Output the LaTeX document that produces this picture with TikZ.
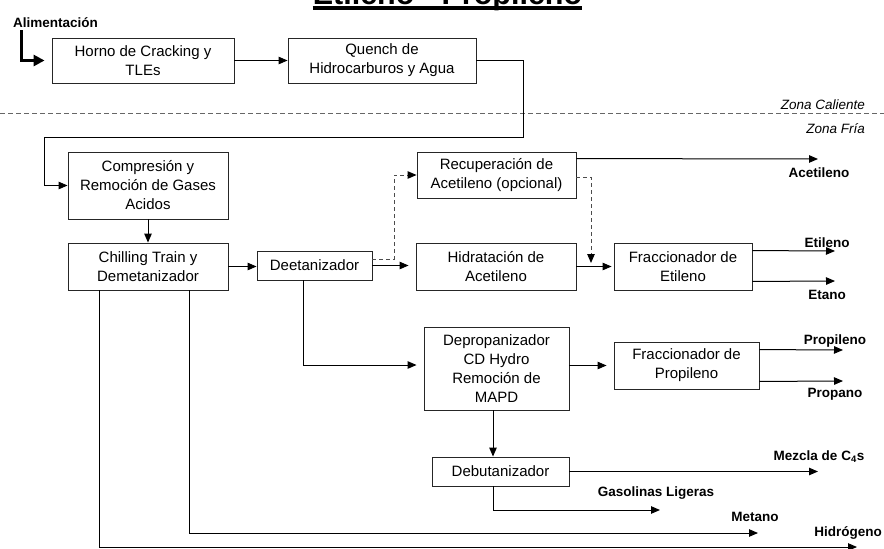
\documentclass[tikz,border=0pt]{standalone}
\usepackage{fontspec}
\setmainfont{Liberation Sans}
\usetikzlibrary{arrows.meta,calc}
\begin{document}
\begin{tikzpicture}[x=1pt,y=-1pt,
  unitbox/.style={draw=black!85, line width=0.9pt, align=center,
    font=\fontsize{15}{19}\selectfont, inner sep=0pt},
  flow/.style={line width=1pt, -{Triangle[length=9pt,width=7.5pt]}},
  recycle/.style={line width=1pt, draw=black!70, dash pattern=on 4pt off 3pt,
    -{Triangle[length=9pt,width=7.5pt,color=black]}},
  product/.style={font=\bfseries\fontsize{13.5}{16}\selectfont, inner sep=0pt},
  zone/.style={font=\itshape\fontsize{13.5}{16}\selectfont, inner sep=0pt, anchor=east}]
\useasboundingbox (0,0) rectangle (884,549);

% title (partly above the page edge)
\node[font=\bfseries\fontsize{30.5}{36}\selectfont, anchor=base, inner sep=0pt]
  (titulo) at (447.5,4) {Etileno - Propileno};
\draw[line width=3.5pt] ($(titulo.base west)+(0,4)$) -- ($(titulo.base east)+(0,4)$);

% hot / cold zone divider
\coordinate (zl) at (0,113);
\coordinate (zr) at (884,113);
\draw[line width=1pt, draw=black!60, dash pattern=on 5pt off 3pt] (zl) -- (zr);
\node[zone] (caliente) at (865,105) {Zona Caliente};
\node[zone] (fria) at (865,129) {Zona Fría};

% process units
\node[unitbox, minimum width=182pt, minimum height=45pt] (horno) at (143,60.5) {Horno de Cracking y\\TLEs};
\node[unitbox, minimum width=188pt, minimum height=45pt] (quench) at (382,60.5) {Quench de\\Hidrocarburos y Agua};
\node[unitbox, minimum width=160pt, minimum height=67pt] (compresion) at (148,185.5) {Compresión y\\Remoción de Gases\\Acidos};
\node[unitbox, minimum width=160pt, minimum height=47pt] (chill) at (148,266.5) {Chilling Train y\\Demetanizador};
\node[unitbox, minimum width=115pt, minimum height=29pt] (deet) at (314.5,265.5) {Deetanizador};
\node[unitbox, minimum width=159pt, minimum height=46pt] (recup) at (496.5,175) {Recuperación de\\Acetileno (opcional)};
\node[unitbox, minimum width=160pt, minimum height=47pt] (hidr) at (496,266.5) {Hidratación de\\Acetileno};
\node[unitbox, minimum width=138pt, minimum height=47pt] (fracet) at (683,266.5) {Fraccionador de\\Etileno};
\node[unitbox, minimum width=145pt, minimum height=83pt] (depro) at (496.5,368.5) {Depropanizador\\CD Hydro\\Remoción de\\MAPD};
\node[unitbox, minimum width=145pt, minimum height=47pt] (fracpr) at (686.5,365.5) {Fraccionador de\\Propileno};
\node[unitbox, minimum width=137pt, minimum height=29pt] (debut) at (500.5,471.5) {Debutanizador};

% feed
\node[product, anchor=west] (alim) at (13,22.7) {Alimentación};
\coordinate (feedtop) at (21,30);
\draw[line width=3pt, -{Triangle[length=11pt,width=11pt]}, shorten >=7pt]
  (feedtop) |- (horno.west);

% main train
\draw[flow] (horno.east) -- (quench.west);
\coordinate (q1) at (523,137);
\coordinate (q2) at (44,137);
\draw[flow] (quench.east) -| (q1) -- (q2) |- (compresion.west);
\draw[flow] (compresion.south) -- (chill.north);
\draw[flow] (chill.east) -- (chill.east -| deet.west);
\draw[flow, shorten >=7pt] (deet.east) -- (deet.east -| hidr.west);
\draw[flow, shorten >=2pt] (hidr.east) -- (fracet.west);

% optional acetylene recovery
\coordinate (dv) at (394,175);
\draw[recycle] ($(deet.east)+(0,-6.5)$) -| (dv) -- (recup.west);
\coordinate (dj) at (591,263);
\draw[recycle] ($(recup.east)+(0,2)$) -| (dj);

% C3 and heavier
\coordinate (dd) at (303,365);
\draw[flow, shorten >=7pt] (deet.south -| dd) -- (dd) -- (depro.west |- dd);
\draw[flow, shorten >=7pt] (depro.east |- fracpr.west) -- (fracpr.west);
\coordinate (dbx) at (493,0);
\draw[flow] (depro.south -| dbx) -- (debut.north -| dbx);

% products
\coordinate (acetend) at (818,159);
\draw[flow] ($(recup.north east)+(0,7)$) -- (acetend);
\node[product] (acetileno) at (819,173) {Acetileno};

\coordinate (etilend) at (835,251);
\coordinate (etanend) at (835,281);
\draw[flow] ($(fracet.north east)+(0,8)$) -- (etilend);
\draw[flow] ($(fracet.south east)+(0,-9)$) -- (etanend);
\node[product] (etileno) at (827,243) {Etileno};
\node[product] (etano) at (827,295) {Etano};

\coordinate (propilend) at (843,350);
\coordinate (propanend) at (843,381);
\draw[flow] ($(fracpr.north east)+(0,8)$) -- (propilend);
\draw[flow] ($(fracpr.south east)+(0,-8)$) -- (propanend);
\node[product] (propileno) at (835,341) {Propileno};
\node[product] (propano) at (835,394) {Propano};

\coordinate (mezend) at (818,472);
\draw[flow] (debut.east) -- (debut.east -| mezend);
\node[product] (mezcla) at (819,457) {Mezcla de C\textsubscript{4}s};

\coordinate (gasend) at (660,510);
\draw[flow] (debut.south -| dbx) |- (gasend);
\node[product] (gasolinas) at (656,493) {Gasolinas Ligeras};

\coordinate (metx) at (189,0);
\coordinate (metend) at (758,533);
\draw[flow] (chill.south -| metx) |- (metend);
\node[product] (metano) at (755,517) {Metano};

\coordinate (hidx) at (99,0);
\coordinate (hidend) at (857,547);
\draw[flow] (chill.south -| hidx) |- (hidend);
\node[product] (hidrogeno) at (848,533) {Hidrógeno};
\end{tikzpicture}
\end{document}
